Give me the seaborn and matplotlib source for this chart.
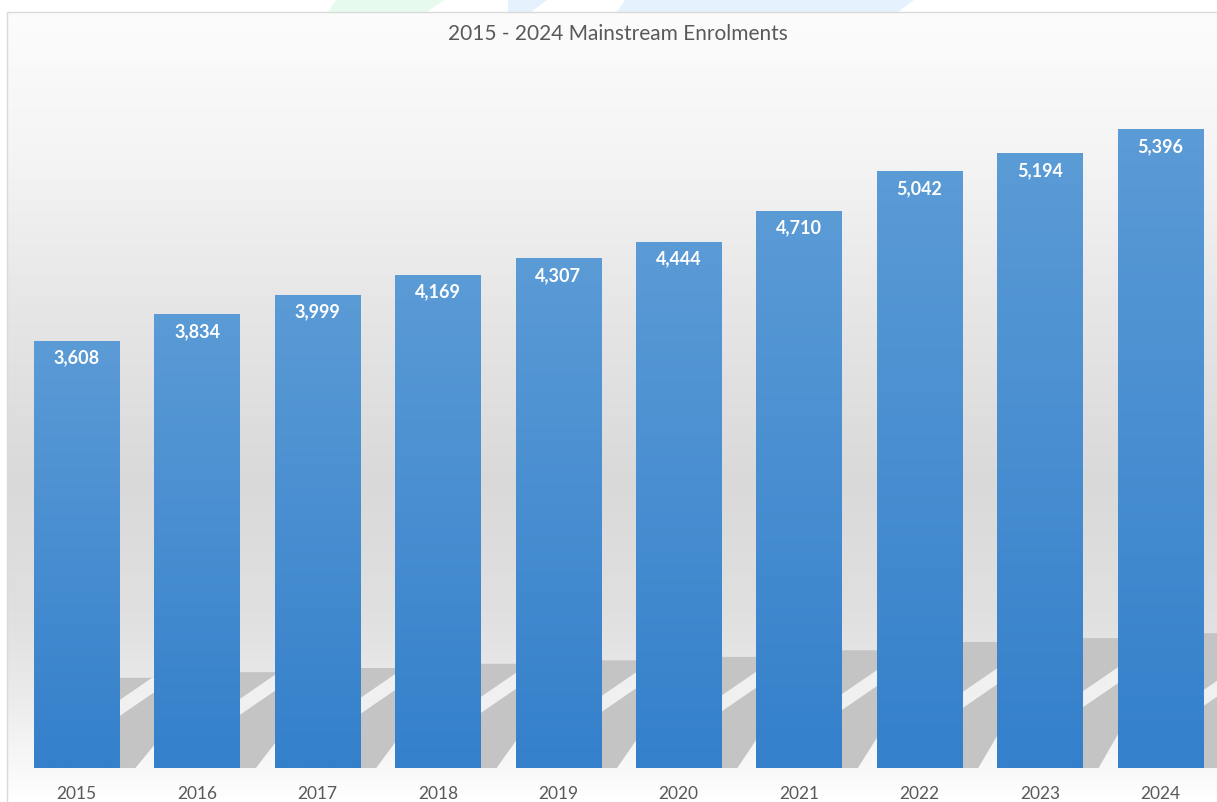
import numpy as np
import matplotlib
matplotlib.use("Agg")
import matplotlib.pyplot as plt
import seaborn as sns
import pandas as pd
from matplotlib.colors import LinearSegmentedColormap
from matplotlib.patches import Polygon, Rectangle

# ---------------- data ----------------
years = ["2015", "2016", "2017", "2018", "2019", "2020", "2021", "2022", "2023", "2024"]
enrolments = [3608, 3834, 3999, 4169, 4307, 4444, 4710, 5042, 5194, 5396]
chart_title = "2015 - 2024 Mainstream Enrolments"

# ---------------- style ----------------
sns.set_theme(style="white")
plt.rcParams['font.family'] = ['Lato', 'DejaVu Sans']

W, H = 1217, 802
fig = plt.figure(figsize=(W / 100, H / 100), dpi=100)
fig.patch.set_facecolor("white")


def fx(px):
    return px / W


def fy(py):
    return 1 - py / H


# faint decorative shapes above the chart frame
for pts, col in [
    ([(336, 0), (445, 0), (426, 12), (328, 12)], "#e6fbee"),
    ([(508, 0), (547, 0), (531, 12), (508, 12)], "#e5f1fd"),
    ([(625, 0), (914, 0), (898, 12), (617, 12)], "#e5f1fd"),
]:
    fig.patches.append(Polygon([(fx(x), fy(y)) for x, y in pts], closed=True,
                               transform=fig.transFigure, fc=col, ec="none", zorder=0))

# background gradient of the chart area
bg = fig.add_axes([fx(7), 0, 1 - fx(7), (H - 12) / H])
bg.set_axis_off()
bg.set_zorder(0)
stops_y = [12, 150, 300, 480, 620, 700, 768, 802]
stops_g = [0.988, 0.960, 0.905, 0.852, 0.880, 0.925, 0.975, 1.0]
ys = np.arange(12, 803)
gv = np.interp(ys, stops_y, stops_g)
img = np.repeat(gv[:, None, None], 3, axis=2)
bg.imshow(img, aspect="auto", extent=[0, 1, 0, 1], origin="upper", interpolation="bilinear")
bg.set_xlim(0, 1)
bg.set_ylim(0, 1)

# chart-area border
fig.patches.append(Rectangle((fx(7), -0.01), 1.0, (H - 12) / H + 0.01, transform=fig.transFigure,
                             fill=False, ec="#d9d9d9", lw=1.0, zorder=1))

# main axes
pitch = 120.4
ax = fig.add_axes([fx(16.5), (H - 768) / H, 1 - fx(16.5), 710 / H])
ax.set_zorder(2)
ax.patch.set_alpha(0)

df = pd.DataFrame({"year": years, "value": enrolments})
sns.barplot(data=df, x="year", y="value", color="#4a8fd2", saturation=1, width=0.71,
            ax=ax, zorder=3, linewidth=0, edgecolor="none")

ymax = 6000
ux = 1 / pitch            # category units per pixel
uy = ymax / 710           # data units per pixel

# shadows behind bars
for i, v in enumerate(enrolments):
    r = i + 0.355
    hpx = 0.025 * v
    hd = hpx * uy
    sh = Polygon([(r - 40 * ux, 0), (r + 16 * ux, 0), (r + 90 * ux, hd), (r - 10 * ux, hd)],
                 closed=True, fc="#c4c4c4", ec="none", zorder=2)
    ax.add_patch(sh)
    yl = 40 + 0.22 * hpx
    slope = 24 / 35
    xa, xb = -15, 90
    stripe = Polygon([(r + xa * ux, (yl + slope * xa - 8) * uy),
                      (r + xb * ux, (yl + slope * xb - 8) * uy),
                      (r + xb * ux, (yl + slope * xb + 8) * uy),
                      (r + xa * ux, (yl + slope * xa + 8) * uy)],
                     closed=True, fc="#f0f0f0", ec="none", zorder=2.2)
    ax.add_patch(stripe)
    stripe.set_clip_path(sh)

# gradient fill of bars
bar_cmap = LinearSegmentedColormap.from_list("bar", ["#3480cb", "#5b9bd6"])
grad = np.linspace(0, 1, 256).reshape(-1, 1)
for p in list(ax.patches):
    if isinstance(p, Rectangle) and p.get_height() > 0 and p.get_zorder() == 3:
        x0, w, h = p.get_x(), p.get_width(), p.get_height()
        im = ax.imshow(grad, cmap=bar_cmap, extent=[x0, x0 + w, 0, h], aspect="auto",
                       origin="lower", zorder=3.5, interpolation="bilinear")
        im.set_clip_path(p)

# value labels
for i, v in enumerate(enrolments):
    ax.text(i, v - 17 * uy, f"{v:,}", ha="center", va="center", color="white",
            fontsize=13, fontweight="bold", zorder=5)

ax.set_xlim(-0.5, -0.5 + (W - 16.5) / pitch)
ax.set_ylim(0, ymax)
ax.set_yticks([])
ax.set_xlabel("")
ax.set_ylabel("")
ax.tick_params(axis="x", length=0, pad=13, labelsize=12.5, labelcolor="#595959")
for s in ax.spines.values():
    s.set_visible(False)

fig.text(fx(618), fy(34), chart_title, ha="center", va="center", fontsize=15, color="#595959")

fig.savefig("out.png", dpi=100)
